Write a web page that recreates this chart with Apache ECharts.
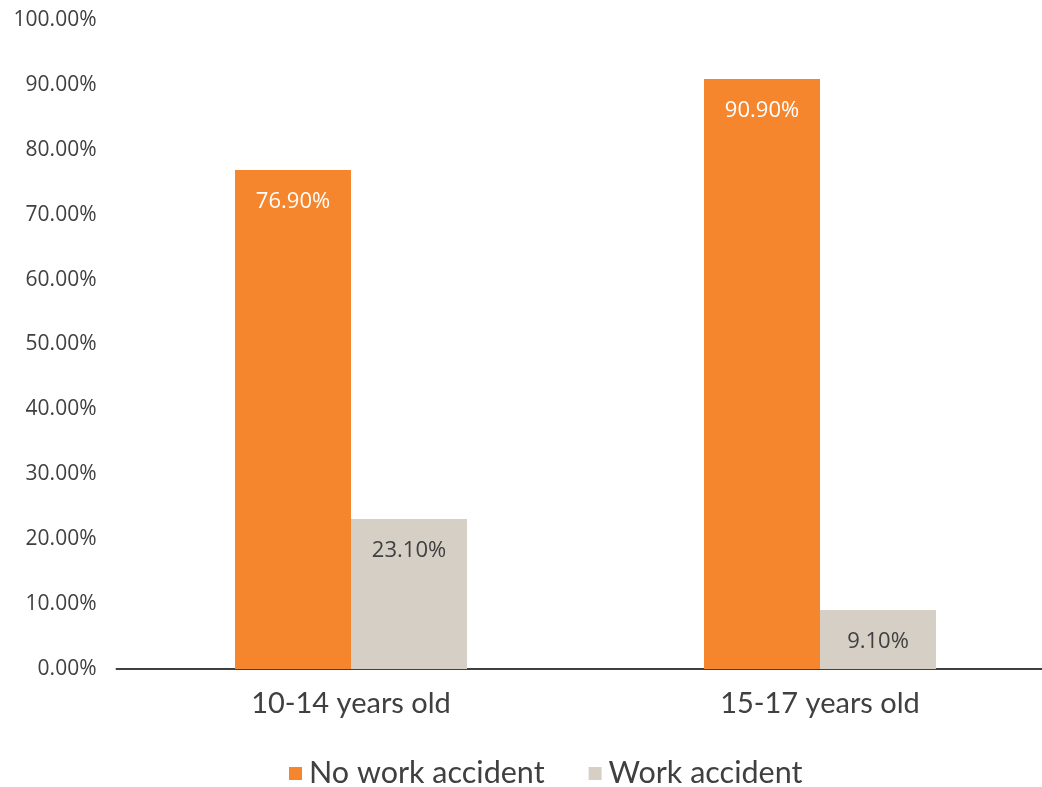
<!DOCTYPE html>
<html>
<head>
<meta charset="utf-8">
<script src="https://cdn.jsdelivr.net/npm/echarts@6/dist/echarts.min.js"></script>
<style>
html,body{margin:0;padding:0;background:#fff;}
#chart{width:1042px;height:787px;}
</style>
</head>
<body>
<div id="chart"></div>
<script>
const categories = ['10-14 years old', '15-17 years old'];
const noAccident = [76.9, 90.9];
const workAccident = [23.1, 9.1];
const seriesNames = ['No work accident', 'Work accident'];

const chart = echarts.init(document.getElementById('chart'), null, {renderer: 'canvas'});
const labelFont = 'Open Sans';
const catFont = 'Lato';
chart.setOption({
  animation: false,
  grid: {left: 116.5, right: -12.5, top: 20, bottom: 118, containLabel: false, outerBoundsMode: 'none'},
  legend: {
    data: seriesNames,
    top: 753,
    left: 284,
    itemWidth: 13,
    itemHeight: 13,
    itemGap: 44,
    icon: 'rect',
    textStyle: {fontFamily: catFont, fontSize: 30.5, color: '#404040', padding: [0, 0, 0, 2]}
  },
  xAxis: {
    type: 'category',
    data: categories,
    axisLine: {lineStyle: {color: '#404040', width: 2}},
    axisTick: {show: false},
    axisLabel: {fontFamily: catFont, fontSize: 29, color: '#404040', margin: 20}
  },
  yAxis: {
    type: 'value',
    min: 0,
    max: 100,
    interval: 10,
    splitLine: {show: false},
    axisLine: {show: false},
    axisTick: {show: false},
    axisLabel: {
      fontFamily: labelFont, fontSize: 21, color: '#404040', margin: 20,
      formatter: v => v.toFixed(2) + '%'
    }
  },
  series: [
    {
      name: seriesNames[0], type: 'bar', data: noAccident, barWidth: 116, barGap: '0%',
      itemStyle: {color: '#F6862D'},
      label: {show: true, position: 'insideTop', distance: 21, fontFamily: labelFont, fontSize: 22, color: '#ffffff',
        formatter: p => p.value.toFixed(2) + '%'}
    },
    {
      name: seriesNames[1], type: 'bar', data: workAccident, barWidth: 116, barGap: '0%',
      itemStyle: {color: '#D5CFC6'},
      label: {show: true, position: 'insideTop', distance: 21, fontFamily: labelFont, fontSize: 22, color: '#404040',
        formatter: p => p.value.toFixed(2) + '%'}
    }
  ]
});
</script>
</body>
</html>
